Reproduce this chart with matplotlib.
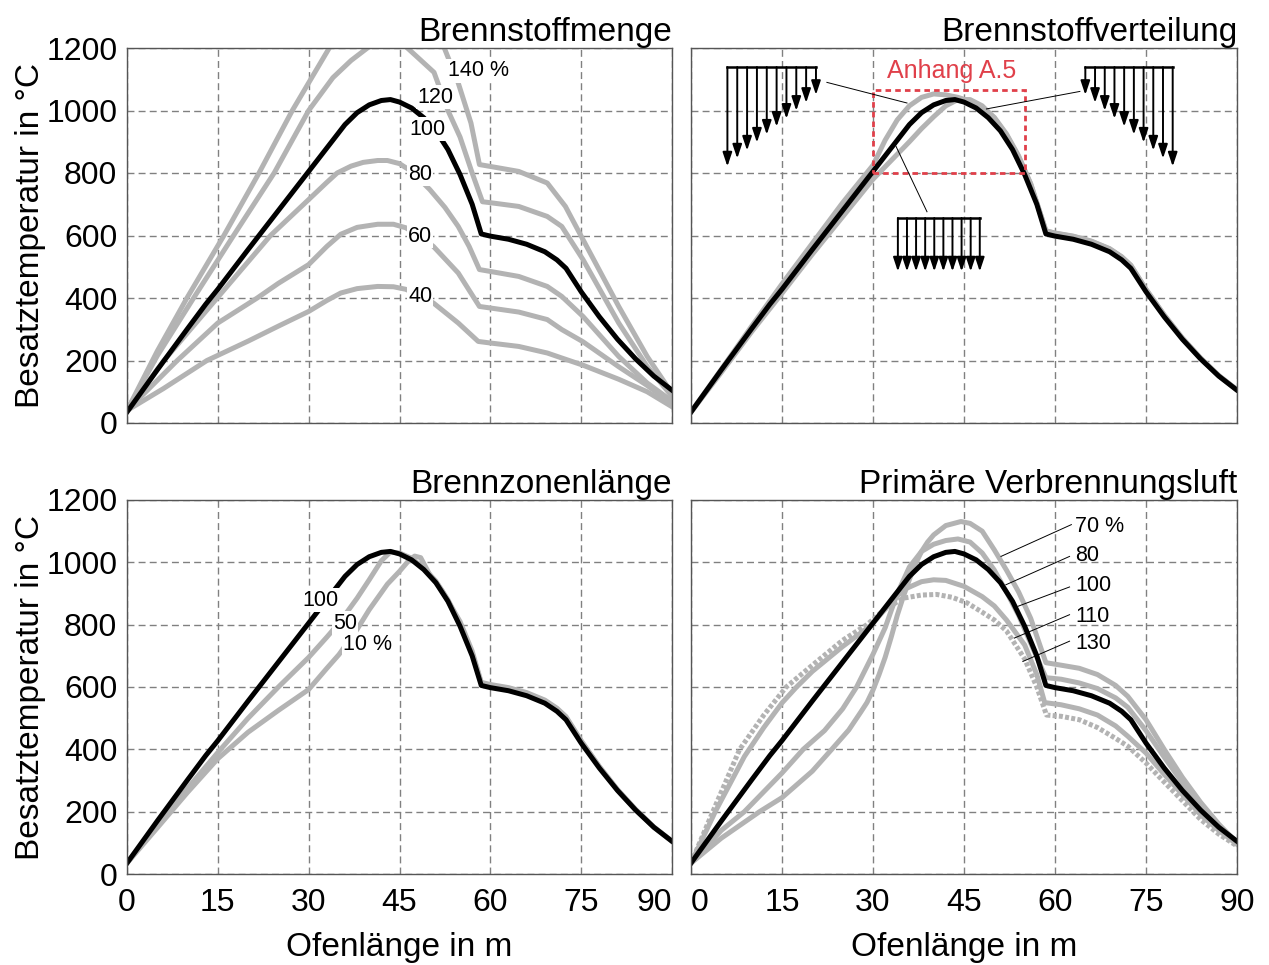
import matplotlib
matplotlib.use("Agg")
import matplotlib.pyplot as plt

plt.rcParams['font.family'] = ['Liberation Sans', 'DejaVu Sans']

# --- data (Ofenlänge in m / Besatztemperatur in °C) ---------------------------
# reference curve (100 %), identical in all four panels
ref_x = [0, 5, 10, 13, 15, 20, 25, 30, 32, 34, 36, 38, 40, 42, 43.5, 45, 47, 49, 51, 53,
         55, 57, 58.5, 60, 63, 66, 69, 71, 72.5, 75, 78, 81, 84, 87, 90]
ref_y = [35, 170, 302, 380, 428, 555, 680, 805, 855, 905, 955, 993, 1018, 1032, 1035, 1027,
         1008, 977, 935, 875, 795, 700, 605, 598, 588, 572, 548, 522, 495, 420, 340, 268,
         205, 150, 105]

# panel 1: Brennstoffmenge
fuel_labels = ["40", "60", "80", "120", "140 %"]
fuel_x = {
    "40": [0, 6, 13.2, 20, 25, 30, 33, 35.3, 38, 41.4, 44, 46, 48, 50.6, 54.7, 58, 60, 64.7,
           69.4, 71.8, 75.3, 81.2, 85.9, 90],
    "60": [0, 8.3, 15, 21.5, 25, 30, 33, 35.3, 38, 41.4, 44, 46, 48, 50.6, 54.7, 58.2, 60,
           64.7, 69.4, 71.8, 75.3, 81.2, 85.9, 90],
    "80": [0, 6.1, 14.9, 23.7, 30, 33, 34.7, 37, 39, 41.4, 43, 45, 47, 50, 52.5, 54.7, 56.5,
           58.2, 60, 64.7, 69.4, 71.8, 75.3, 81.2, 85.9, 90],
    "120": [0, 5, 11, 17.6, 24.3, 30, 34, 37, 39.7, 42, 43.5, 45, 46.3, 48, 50.7, 53, 55,
            57, 58.7, 60, 64.7, 69.4, 71.8, 75.3, 81.2, 85.9, 90],
    "140 %": [0, 5, 9.9, 16, 21.8, 27.3, 33.4, 38, 42, 45, 48, 52.4, 54.7, 56.8, 58.2, 60,
              64.7, 69.4, 72.4, 75.3, 81.2, 85.9, 90],
}
fuel_y = {
    "40": [40, 110, 200, 262, 310, 357, 392, 416, 430, 437, 436, 428, 412, 384, 320, 261,
           256, 245, 224, 208, 185, 140, 100, 52],
    "60": [40, 200, 320, 400, 447, 507, 565, 604, 626, 636, 636, 625, 603, 565, 480, 373,
           368, 355, 331, 299, 260, 180, 120, 62],
    "80": [40, 200, 400, 600, 715, 770, 800, 822, 834, 840, 840, 830, 805, 747, 690, 629,
           565, 491, 485, 469, 437, 405, 341, 213, 128, 70],
    "120": [40, 215, 400, 600, 800, 1000, 1105, 1160, 1200, 1230, 1240, 1232, 1200, 1170,
            1122, 1000, 915, 800, 708, 705, 693, 661, 629, 523, 320, 181, 85],
    "140 %": [40, 230, 400, 600, 800, 1000, 1200, 1330, 1380, 1360, 1310, 1200, 1088, 960,
              827, 821, 805, 768, 693, 587, 373, 213, 95],
}
fuel_label_pos = {"40": (48.4, 404), "60": (48.4, 597), "80": (48.4, 796),
                  "100": (49.6, 940), "120": (50.9, 1043), "140 %": (58.0, 1127)}

# panel 2: Brennstoffverteilung
dist_front_x = [0, 5, 10, 15, 20, 25, 30, 32, 34, 36, 38, 40, 42, 44, 46, 48, 50, 52, 54,
                56, 58.5, 60, 63, 66, 69, 71, 72.5, 75, 78, 81, 84, 87, 90]
dist_front_y = [35, 172, 310, 445, 575, 705, 825, 905, 970, 1015, 1042, 1053, 1050, 1042,
                1030, 1012, 978, 925, 855, 765, 615, 608, 598, 582, 558, 532, 505, 428, 346,
                272, 208, 152, 106]
dist_back_x = [0, 5, 10, 15, 20, 25, 30, 33, 36, 38, 40, 42, 44, 46, 48, 50, 52, 54, 56,
               58.5, 60, 63, 66, 69, 71, 72.5, 75, 78, 81, 84, 87, 90]
dist_back_y = [35, 162, 292, 415, 540, 660, 780, 840, 900, 942, 980, 1015, 1035, 1035, 1015,
               975, 922, 852, 765, 615, 607, 597, 581, 557, 531, 504, 427, 345, 271, 207,
               151, 106]

# panel 3: Brennzonenlänge
zone_labels = ["50", "10 %"]
zone_x = {
    "50": [0, 5, 10, 15, 20, 25, 30, 33, 35, 38, 40, 42, 43.5, 45, 47, 49, 51, 53, 55, 57,
           58.5, 60, 63, 66, 69, 71, 72.5, 75, 78, 81, 84, 87, 90],
    "10 %": [0, 5, 10, 15, 20, 25, 30, 33, 35, 38, 40, 43, 45, 46.5, 47.5, 48.5, 50, 52, 55,
             57, 58.5, 60, 63, 66, 69, 71, 72.5, 75, 78, 81, 84, 87, 90],
}
zone_y = {
    "50": [35, 155, 275, 390, 500, 600, 695, 760, 805, 885, 944, 1005, 1033, 1030, 1013,
           982, 940, 880, 802, 707, 612, 605, 595, 579, 555, 529, 502, 426, 344, 270, 206,
           150, 105],
    "10 %": [35, 148, 262, 370, 455, 525, 592, 660, 704, 785, 848, 930, 971, 1005, 1020,
             1015, 960, 910, 810, 715, 615, 608, 598, 582, 558, 532, 505, 428, 345, 271,
             207, 151, 105],
}
zone_label_pos = {"100": (31.9, 879), "50": (36.0, 805), "10 %": (39.7, 735)}

# panel 4: Primäre Verbrennungsluft
air_labels = ["70 %", "80", "110", "130"]
air_x = {
    "70 %": [0, 5, 11.3, 15, 20, 23.2, 26, 28, 29, 30, 31, 32, 33, 34, 35, 36, 37, 38, 39,
             40, 42, 44.5, 46, 48, 50, 52, 54, 56, 58.5, 61, 64, 67, 70, 72, 75, 78, 81, 84,
             87, 90],
    "80": [0, 5, 8.8, 15, 18.5, 22, 25, 27.3, 30, 32, 34, 36, 38, 40, 42, 44, 46, 48, 50,
           52, 54, 56, 58.5, 61, 64, 67, 70, 72, 75, 78, 81, 84, 87, 90],
    "110": [0, 4, 8.8, 12, 15, 17.4, 20, 25, 29.8, 32, 35, 38, 40, 42, 45, 48, 50, 52, 55,
            57, 58.3, 61, 64, 67, 70, 72, 75, 78, 81, 84, 87, 90],
    "130": [0, 3.6, 8, 12, 15.7, 20, 25, 29, 32, 35, 38, 40.5, 43, 45.5, 48, 50, 52, 55, 57,
            58.6, 61, 64, 67, 70, 72, 75, 78, 81, 84, 87, 90],
}
air_y = {
    "70 %": [35, 115, 200, 245, 330, 400, 462, 520, 550, 590, 640, 695, 760, 830, 890, 945,
             995, 1035, 1065, 1088, 1118, 1131, 1125, 1100, 1040, 975, 905, 820, 678, 670,
             660, 640, 605, 570, 495, 400, 310, 230, 160, 100],
    "80": [35, 140, 200, 324, 400, 460, 530, 600, 705, 790, 900, 985, 1035, 1058, 1070,
           1075, 1065, 1030, 975, 905, 830, 740, 630, 625, 613, 595, 565, 535, 460, 375,
           293, 220, 155, 98],
    "110": [35, 200, 377, 470, 549, 600, 650, 730, 800, 850, 912, 938, 944, 942, 923, 890,
            860, 815, 735, 640, 550, 543, 530, 510, 475, 442, 388, 320, 255, 190, 140, 95],
    "130": [35, 200, 399, 510, 600, 670, 750, 800, 850, 885, 895, 897, 888, 870, 840, 815,
            780, 690, 600, 510, 506, 495, 470, 435, 410, 356, 295, 235, 175, 128, 90],
}
air_label_pos = {"70 %": (63.3, 1114), "80": (63.3, 1023), "100": (63.3, 927),
                 "110": (63.3, 825), "130": (63.3, 740)}
air_leader = {"70 %": ((62.7, 1121), (51.1, 1019)), "80": ((62.4, 1019), (51.9, 928)),
              "100": ((62.4, 921), (53.9, 859)), "110": ((62.4, 832), (53.3, 757)),
              "130": ((62.4, 747), (54.7, 682))}

x_ticks = [0, 15, 30, 45, 60, 75, 90]
y_ticks = [0, 200, 400, 600, 800, 1000, 1200]

# --- style ----------------------------------------------------------------------
GRAY = '#b3b3b3'
LW = 3.6
TICK_FS = 23
TITLE_FS = 24
LABEL_FS = 15.5


def style_axes(ax, title, left, bottom):
    ax.set_xlim(0, 90)
    ax.set_ylim(0, 1200)
    ax.set_xticks(x_ticks)
    ax.set_yticks(y_ticks)
    ax.grid(True, color='#808080', linestyle=(0, (5, 3)), linewidth=1.0)
    ax.tick_params(length=0, labelsize=TICK_FS)
    ax.tick_params(axis='y', pad=7)
    ax.tick_params(axis='x', pad=10)
    for s in ax.spines.values():
        s.set_color('#555555')
        s.set_linewidth(1.0)
    if not left:
        ax.set_yticklabels([])
    else:
        ax.set_ylabel("Besatztemperatur in °C", fontsize=TITLE_FS)
        ax.yaxis.set_label_coords(-0.148, 0.5)
    if not bottom:
        ax.set_xticklabels([])
    else:
        ax.set_xlabel("Ofenlänge in m", fontsize=TITLE_FS)
        ax.xaxis.set_label_coords(0.5, -0.155)
    ax.set_title(title, loc='right', fontsize=TITLE_FS, pad=4)


def draw_ref(ax):
    ax.plot(ref_x, ref_y, color='black', lw=LW, zorder=2.5)


def label(ax, text, pos):
    ax.text(pos[0], pos[1], text, fontsize=LABEL_FS, ha='center', va='center', zorder=4,
            bbox=dict(facecolor='white', edgecolor='none', pad=1.0))


def fuel_glyph(ax, x0, x1, top, tip0, tip1, n=10):
    # little arrow diagram showing the fuel distribution along the kiln
    ax.plot([x0, x1], [top, top], color='black', lw=1.8, zorder=4, solid_capstyle='projecting')
    for i in range(n):
        xi = x0 + (x1 - x0) * i / (n - 1)
        ti = tip0 + (tip1 - tip0) * i / (n - 1)
        ax.annotate('', xy=(xi, ti), xytext=(xi, top), zorder=4,
                    arrowprops=dict(arrowstyle='-|>,head_length=0.6,head_width=0.2',
                                    color='black', lw=1.4, mutation_scale=14,
                                    shrinkA=0, shrinkB=0))


W, H = 1269, 965
fig = plt.figure(figsize=(W / 100, H / 100), dpi=100)
ax1 = fig.add_axes([127 / W, 1 - 423 / H, 545 / W, 375 / H])
ax2 = fig.add_axes([691 / W, 1 - 423 / H, 546 / W, 375 / H])
ax3 = fig.add_axes([127 / W, 1 - 874 / H, 545 / W, 374 / H])
ax4 = fig.add_axes([691 / W, 1 - 874 / H, 546 / W, 374 / H])

# Brennstoffmenge
for k in fuel_labels:
    ax1.plot(fuel_x[k], fuel_y[k], color=GRAY, lw=LW)
draw_ref(ax1)
for k, pos in fuel_label_pos.items():
    label(ax1, k, pos)
style_axes(ax1, "Brennstoffmenge", True, False)

# Brennstoffverteilung
ax2.plot(dist_front_x, dist_front_y, color=GRAY, lw=LW)
ax2.plot(dist_back_x, dist_back_y, color=GRAY, lw=LW)
draw_ref(ax2)
fuel_glyph(ax2, 6.0, 20.6, 1139, 821, 1050)
fuel_glyph(ax2, 65.0, 79.4, 1139, 1050, 821)
fuel_glyph(ax2, 34.1, 47.6, 656, 485, 485)
ax2.plot([22.4, 35.6], [1090, 1024], color='black', lw=0.7, zorder=4)
ax2.plot([64.1, 48.7], [1061, 1005], color='black', lw=0.7, zorder=4)
ax2.plot([38.9, 33.8], [676, 885], color='black', lw=0.7, zorder=4)
ax2.add_patch(plt.Rectangle((30, 800), 25, 266, fill=False, edgecolor='#e0404a',
                            lw=2.0, linestyle=(0, (2, 1.5)), zorder=3))
ax2.text(43, 1125, "Anhang A.5", color='#e0404a', fontsize=18, ha='center', va='center')
style_axes(ax2, "Brennstoffverteilung", False, False)

# Brennzonenlänge
for k in zone_labels:
    ax3.plot(zone_x[k], zone_y[k], color=GRAY, lw=LW)
draw_ref(ax3)
for k, pos in zone_label_pos.items():
    label(ax3, k, pos)
style_axes(ax3, "Brennzonenlänge", True, True)
ax3.get_xticklabels()[-1].set_ha('right')

# Primäre Verbrennungsluft
for k in air_labels:
    ls = (0, (0.8, 0.45)) if k == "130" else '-'
    ax4.plot(air_x[k], air_y[k], color=GRAY, lw=LW, linestyle=ls)
draw_ref(ax4)
for k, pos in air_label_pos.items():
    ax4.text(pos[0], pos[1], k, fontsize=LABEL_FS, ha='left', va='center', zorder=4)
    (xa, ya), (xb, yb) = air_leader[k]
    ax4.plot([xa, xb], [ya, yb], color='black', lw=0.7, zorder=4)
style_axes(ax4, "Primäre Verbrennungsluft", False, True)
ax4.get_xticklabels()[0].set_ha('left')

fig.savefig("out.png", dpi=100)
